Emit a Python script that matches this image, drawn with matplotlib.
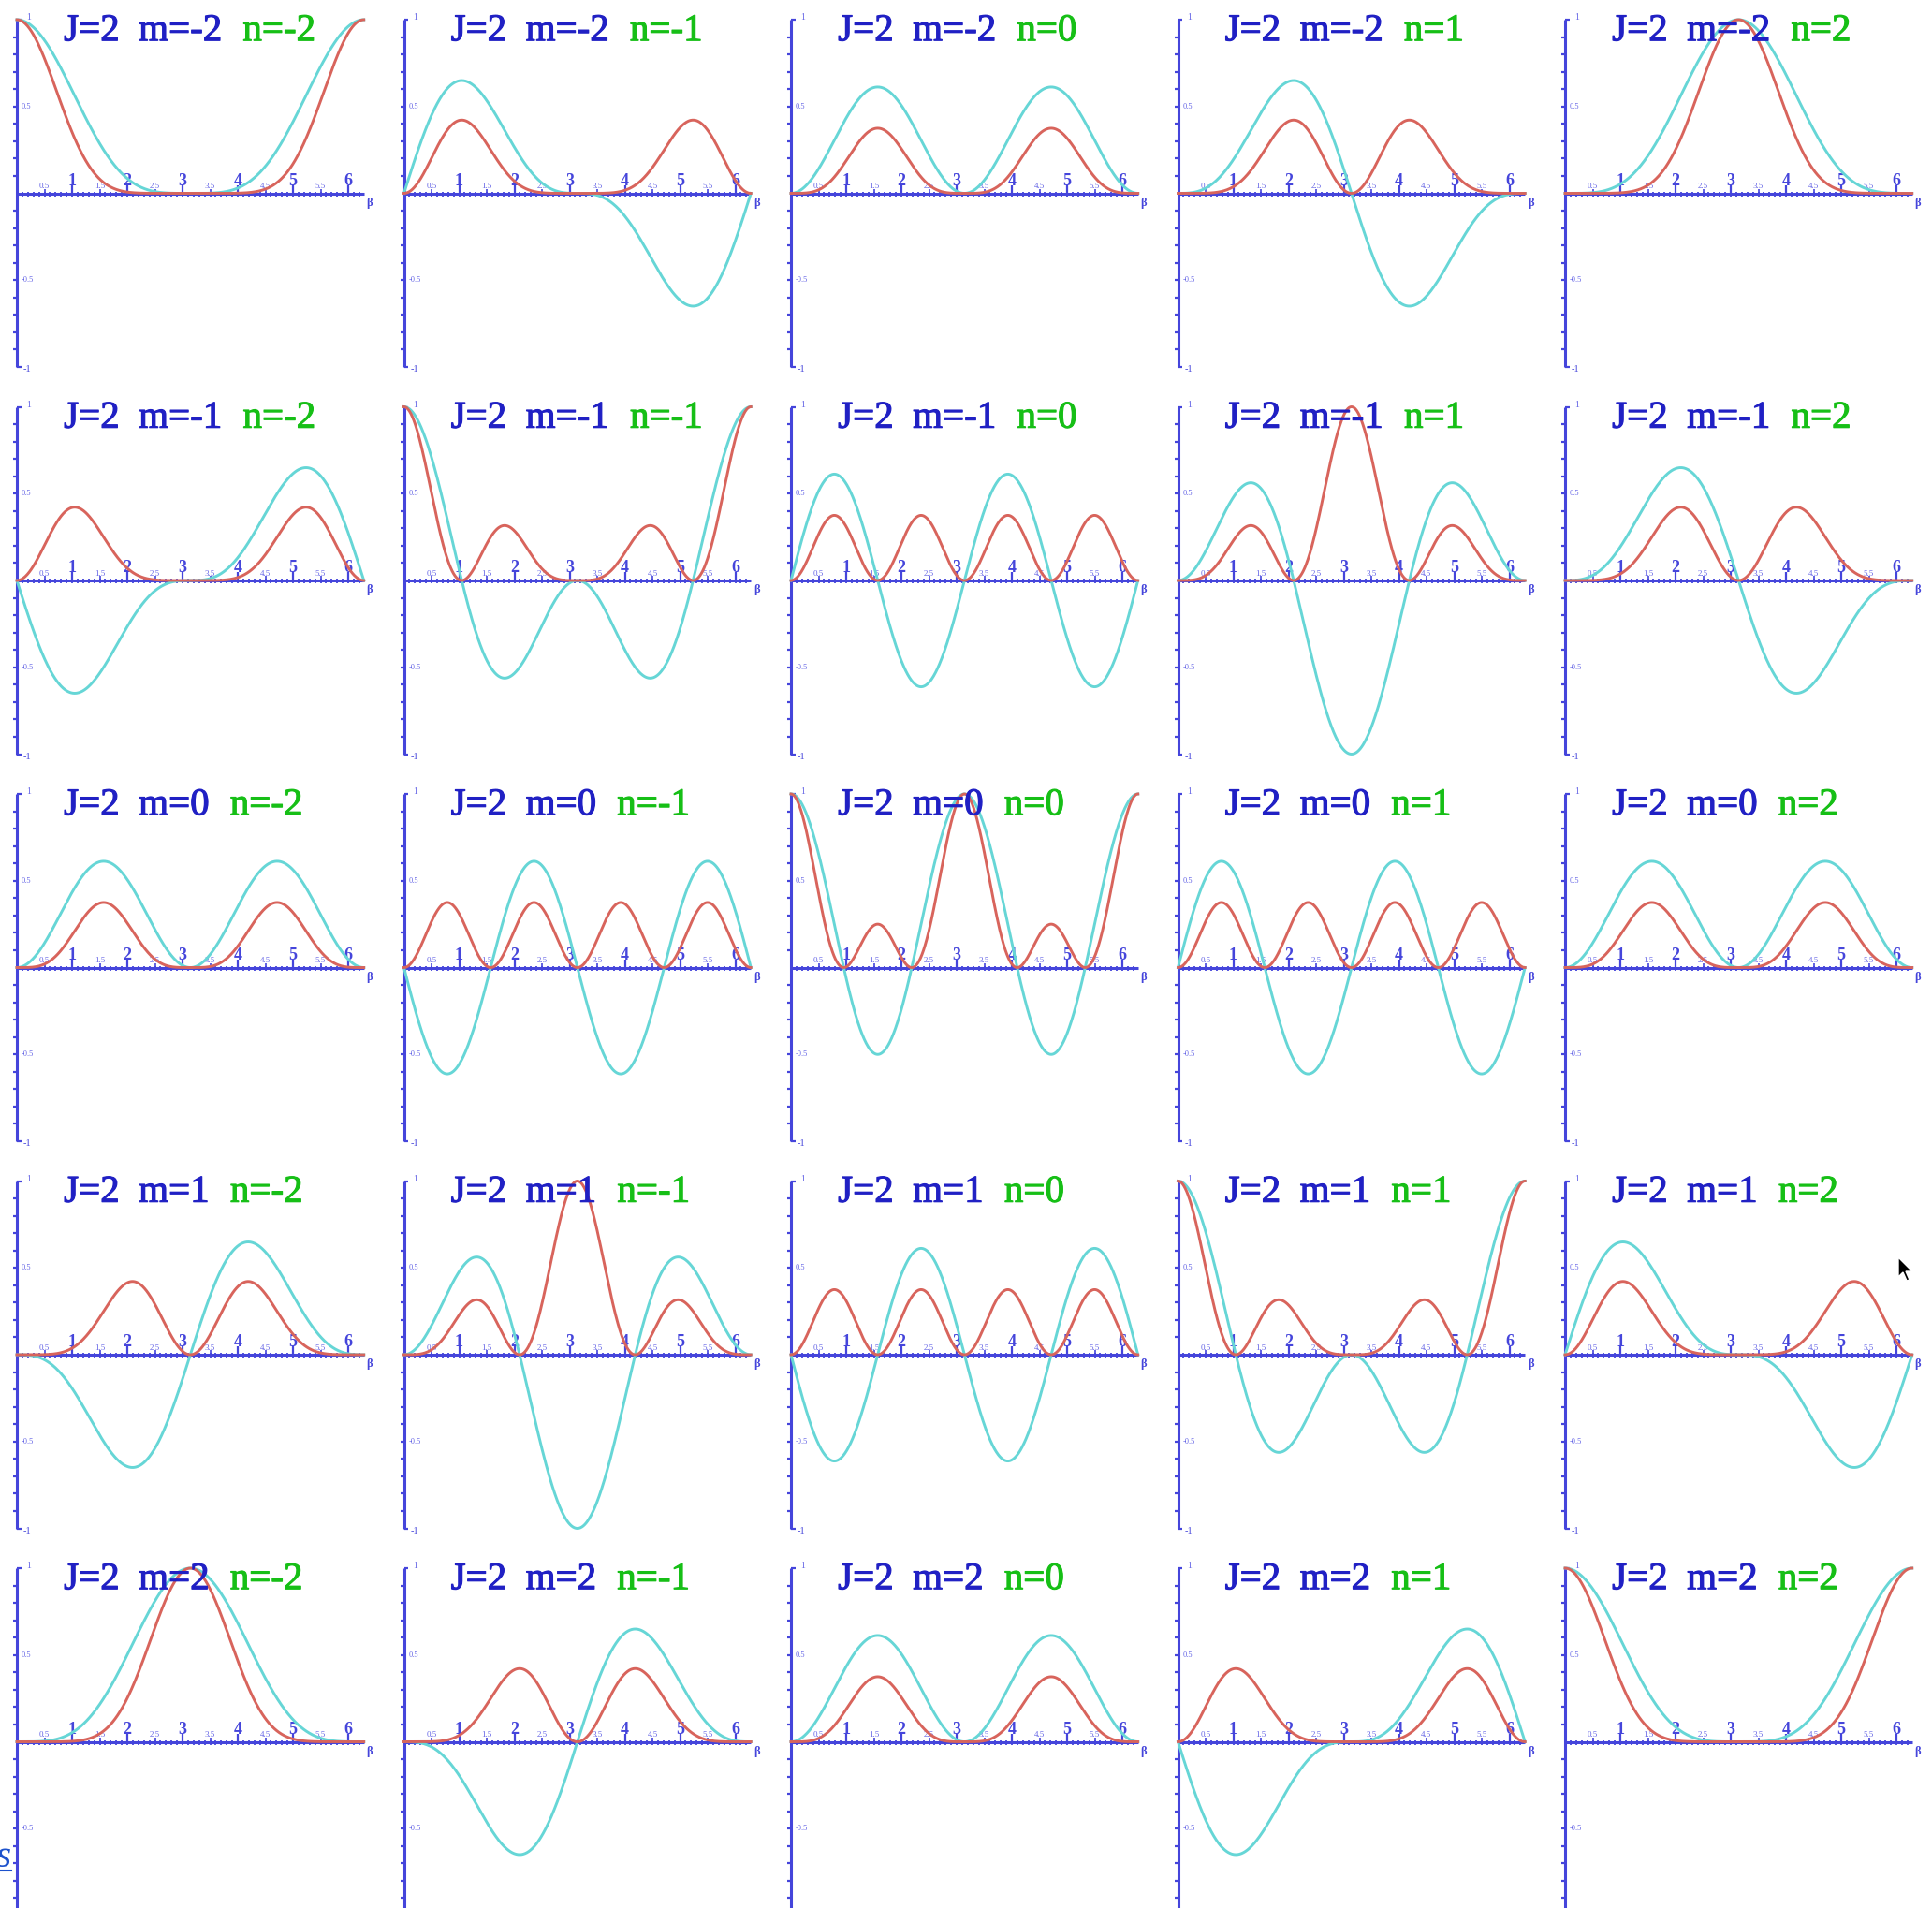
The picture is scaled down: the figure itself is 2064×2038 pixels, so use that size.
import math
import numpy as np
import matplotlib
matplotlib.use("Agg")
import matplotlib.pyplot as plt
import matplotlib.patheffects as pe
from matplotlib.lines import Line2D
from matplotlib.patches import Polygon

# ---- data -------------------------------------------------------------
J = 2
m_values = [-2, -1, 0, 1, 2]          # rows
n_values = [-2, -1, 0, 1, 2]          # columns
beta = np.linspace(0.0, 2.0 * np.pi, 721)

x_int_ticks = [1, 2, 3, 4, 5, 6]
x_half_ticks = [0.5, 1.5, 2.5, 3.5, 4.5, 5.5]
x_half_labels = ["0.5", "1.5", "2.5", "3.5", "4.5", "5.5"]
y_half_ticks = [0.5, -0.5]
y_half_labels = ["0.5", "-0.5"]


def wigner_small_d(j, m, n, b):
    """Wigner small-d matrix element d^j_{m n}(b)."""
    f = math.factorial
    c = np.cos(b / 2.0)
    s = np.sin(b / 2.0)
    pref = math.sqrt(f(j + m) * f(j - m) * f(j + n) * f(j - n))
    total = np.zeros_like(b)
    for k in range(0, 2 * j + 1):
        a1, a2, a3, a4 = j + n - k, k, m - n + k, j - m - k
        if min(a1, a2, a3, a4) < 0:
            continue
        coef = (-1.0) ** (m - n + k) / (f(a1) * f(a2) * f(a3) * f(a4))
        total += coef * c ** (2 * j + n - m - 2 * k) * s ** (m - n + 2 * k)
    return pref * total


# ---- styling ----------------------------------------------------------
W, H = 2064, 2038
DPI = 100
AXIS_COLOR = (0.27, 0.27, 0.86)
LABEL_COLOR = (0.40, 0.40, 0.90)
TITLE_BLUE = "#2020c4"
TITLE_GREEN = "#16bf16"
CYAN = "#66d6d6"
RED = "#d8645c"
SERIF = "Liberation Serif"

X0, Y0 = 18.0, 21.0          # pixel position of the first panel's axes corner
STEP = 413.5                 # spacing between panels (pixels)
PW, PH = 2 * np.pi * 59.0, 371.0

fig = plt.figure(figsize=(W / DPI, H / DPI), dpi=DPI)
fig.patch.set_facecolor("white")

for r, m in enumerate(m_values):
    for c, n in enumerate(n_values):
        left = X0 + STEP * c
        top = Y0 + STEP * r
        ax = fig.add_axes([left / W, 1 - (top + PH) / H, PW / W, PH / H])
        ax.set_xlim(0, 2 * np.pi)
        ax.set_ylim(-1, 1)
        ax.axis("off")

        ax_kw = dict(color=AXIS_COLOR, clip_on=False, solid_capstyle="butt")
        # axes lines
        ax.plot([0, 0], [-1, 1], lw=2.2, zorder=1, **ax_kw)
        ax.plot([0, 2 * np.pi], [0, 0], lw=2.2, zorder=1, **ax_kw)
        ax.plot([0, 0.08], [1, 1], lw=1.6, zorder=1, **ax_kw)
        ax.plot([0, 0.08], [-1, -1], lw=1.6, zorder=1, **ax_kw)

        # y ticks every 0.1
        yt = np.round(np.arange(-0.9, 0.95, 0.1), 2)
        yt = yt[np.abs(yt) > 1e-9]
        ax.plot(np.zeros_like(yt), yt, ls="none", marker=0, ms=3.2,
                mew=1.6, color=AXIS_COLOR, clip_on=False, zorder=1)
        # x ticks every 0.1
        xt = np.round(np.arange(0.1, 2 * np.pi, 0.1), 2)
        ax.plot(xt, np.zeros_like(xt), ls="none", marker="|", ms=3.6,
                mew=1.3, color=AXIS_COLOR, clip_on=False, zorder=1)
        ax.plot(x_int_ticks, np.zeros(len(x_int_ticks)), ls="none", marker=2,
                ms=6.5, mew=1.6, color=AXIS_COLOR, clip_on=False, zorder=1)
        ax.plot(x_half_ticks, np.zeros(len(x_half_ticks)), ls="none", marker=2,
                ms=3.5, mew=1.2, color=AXIS_COLOR, clip_on=False, zorder=1)

        # tick labels
        for xv in x_int_ticks:
            ax.annotate(str(xv), (xv, 0), xytext=(0, 3.5), textcoords="offset points",
                        ha="center", va="bottom", fontsize=13, family=SERIF,
                        fontweight="bold", color=AXIS_COLOR, annotation_clip=False)
        for xv, lab in zip(x_half_ticks, x_half_labels):
            ax.annotate(lab, (xv, 0), xytext=(0, 2.5), textcoords="offset points",
                        ha="center", va="bottom", fontsize=6.5, family=SERIF,
                        color=LABEL_COLOR, annotation_clip=False)
        for yv, lab in zip(y_half_ticks, y_half_labels):
            ax.annotate(lab, (0, yv), xytext=(3.5, 0), textcoords="offset points",
                        ha="left", va="center", fontsize=6, family=SERIF,
                        color=LABEL_COLOR, annotation_clip=False)
        ax.annotate("1", (0, 1), xytext=(7, 1.5), textcoords="offset points",
                    ha="left", va="center", fontsize=7, family=SERIF,
                    color=LABEL_COLOR, annotation_clip=False)
        # the lowest row runs past the bottom edge, so its -1 label is not shown
        if top + PH + 8 < H:
            ax.annotate("-1", (0, -1), xytext=(5, -2), textcoords="offset points",
                        ha="left", va="center", fontsize=7.5, family=SERIF,
                        color=AXIS_COLOR, annotation_clip=False)
        ax.annotate("\u03b2", (2 * np.pi, 0), xytext=(2, -3), textcoords="offset points",
                    ha="left", va="top", fontsize=9, family=SERIF, fontweight="bold",
                    color=AXIS_COLOR, annotation_clip=False)

        # curves: d^J_{mn}(beta) and its square
        d = wigner_small_d(J, m, n, beta)
        ax.plot(beta, d, color=CYAN, lw=2.1, zorder=3, clip_on=False)
        ax.plot(beta, d ** 2, color=RED, lw=2.1, zorder=4, clip_on=False)

        # panel title
        t = ax.text(0.85, 0.88, f"J={J}  m={m}", color=TITLE_BLUE, fontsize=29.5,
                    family=SERIF, ha="left", va="baseline", zorder=5,
                    path_effects=[pe.withStroke(linewidth=0.8, foreground=TITLE_BLUE)])
        ax.annotate(f"n={n}", xy=(1, 0), xycoords=t, xytext=(16, 0),
                    textcoords="offset points", color=TITLE_GREEN, fontsize=29.5,
                    family=SERIF, ha="left", va="bottom", zorder=5,
                    path_effects=[pe.withStroke(linewidth=0.8, foreground=TITLE_GREEN)])

# link fragment at the lower-left edge
fig.text(12 / W, 1 - 1994 / H, "s", ha="right", va="baseline", fontsize=30,
         family=SERIF, style="italic", color="#1d52cc")
fig.add_artist(Line2D([0, 12 / W], [1 - 1998 / H, 1 - 1998 / H],
                      transform=fig.transFigure, color="#1d52cc", lw=1.5))

# mouse pointer
tip_x, tip_y = 2028.0, 1343.0
shape = np.array([[0, 0], [0, 21], [5, 16], [9, 25], [12, 24], [8, 15], [15, 15]],
                 dtype=float)
pts = np.column_stack([(tip_x + shape[:, 0]) / W, 1 - (tip_y + shape[:, 1]) / H])
fig.add_artist(Polygon(pts, closed=True, transform=fig.transFigure,
                       facecolor="black", edgecolor="white", lw=1.0))

fig.savefig("out.png", dpi=DPI, facecolor="white")
